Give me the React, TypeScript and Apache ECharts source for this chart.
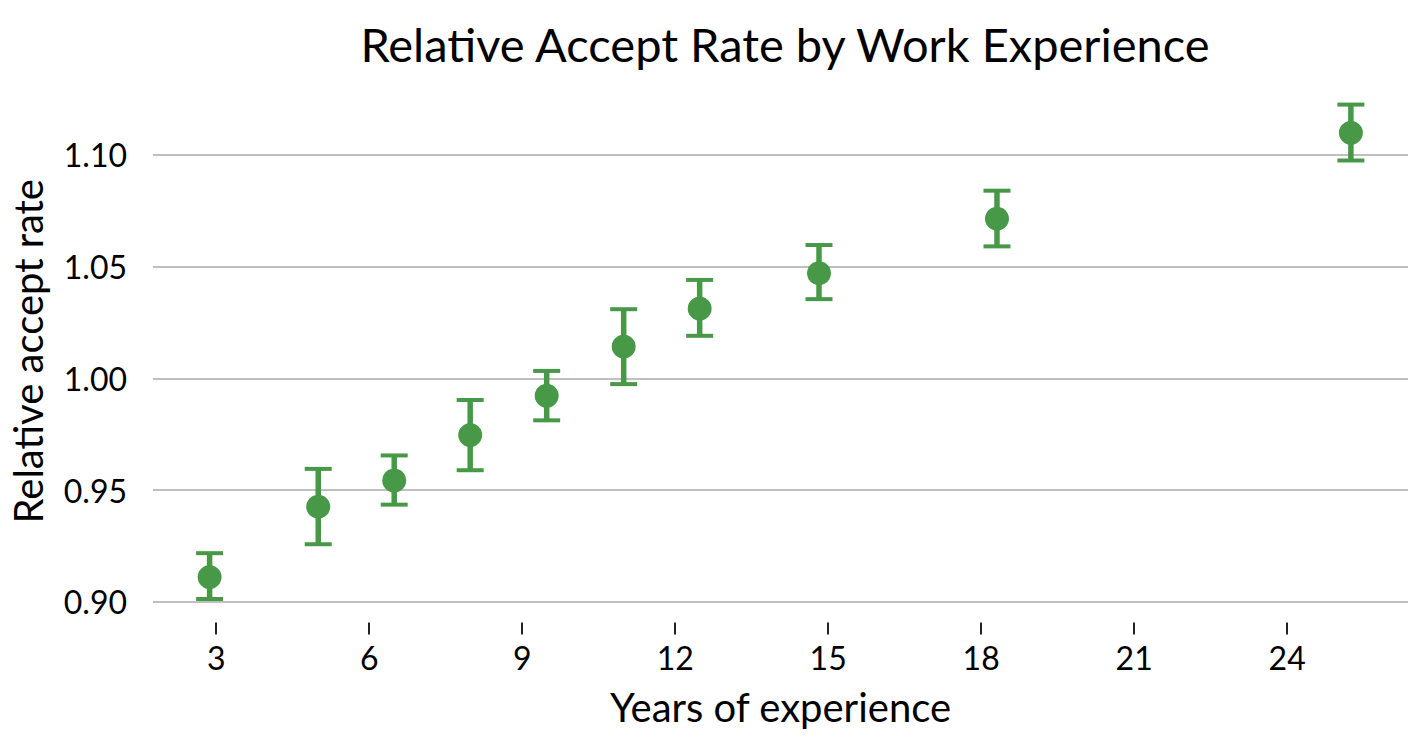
import React, { useEffect, useRef } from "react";
import * as echarts from "echarts";

// years of experience (bin centres) and relative accept rate with error bounds
const years = [2.87, 5.0, 6.49, 7.98, 9.48, 10.99, 12.48, 14.82, 18.31, 25.25];
const rate = [0.9111, 0.9426, 0.9543, 0.9746, 0.9922, 1.0142, 1.0312, 1.047, 1.0714, 1.1098];
const lower = [0.9013, 0.9258, 0.9435, 0.9589, 0.9812, 0.9974, 1.019, 1.0354, 1.059, 1.0974];
const upper = [0.9218, 0.9595, 0.9655, 0.9903, 1.0033, 1.0309, 1.044, 1.0596, 1.0839, 1.1224];

const xTicks = [3, 6, 9, 12, 15, 18, 21, 24];
const yTicks = [0.9, 0.95, 1.0, 1.05, 1.1];

const GREEN = "#479947";
const FONT = "Lato";

export default function App() {
  const chartRef = useRef<HTMLDivElement>(null);

  useEffect(() => {
    document.body.style.margin = "0";
    if (!chartRef.current) return;

    const chart = echarts.init(chartRef.current, null, { renderer: "svg" });

    const points = years.map((x, i) => [x, rate[i]]);
    const bars = years.map((x, i) => [x, lower[i], upper[i]]);

    const option = {
      animation: false,
      backgroundColor: "#ffffff",
      title: {
        text: "Relative Accept Rate by Work Experience",
        left: 780,
        top: 15,
        textAlign: "center",
        textStyle: {
          fontFamily: FONT,
          fontSize: 47,
          fontWeight: "normal",
          color: "#000",
        },
      },
      grid: {
        left: 153,
        right: 14,
        top: 80,
        bottom: 117.5,
      },
      xAxis: {
        type: "value",
        min: 1.76,
        max: 26.37,
        name: "Years of experience",
        nameLocation: "middle",
        nameGap: 64,
        nameTextStyle: { fontFamily: FONT, fontSize: 40, color: "#000" },
        axisLine: { show: false },
        axisTick: {
          show: true,
          length: 12,
          customValues: xTicks,
          lineStyle: { color: "#222", width: 2 },
        },
        axisLabel: {
          customValues: xTicks,
          margin: 19,
          fontFamily: FONT,
          fontSize: 32,
          color: "#000",
          formatter: (v: number) => String(v),
        },
        splitLine: { show: false },
      },
      yAxis: {
        type: "value",
        min: 0.8908,
        max: 1.1334,
        name: "Relative accept rate",
        nameLocation: "middle",
        nameGap: 105,
        nameTextStyle: { fontFamily: FONT, fontSize: 40, color: "#000" },
        axisLine: { show: false },
        axisTick: { show: false, customValues: yTicks },
        axisLabel: {
          customValues: yTicks,
          margin: 26,
          fontFamily: FONT,
          fontSize: 32,
          color: "#000",
          formatter: (v: number) => v.toFixed(2),
        },
        splitLine: {
          show: true,
          lineStyle: { color: "#bfbfbf", width: 2 },
        },
      },
      series: [
        {
          type: "custom",
          data: bars,
          encode: { x: 0, y: [1, 2] },
          z: 2,
          renderItem: (params: any, api: any) => {
            const x = api.value(0);
            const lo = api.coord([x, api.value(1)]);
            const hi = api.coord([x, api.value(2)]);
            const half = 13.5;
            return {
              type: "group",
              children: [
                {
                  type: "line",
                  shape: { x1: lo[0], y1: lo[1], x2: hi[0], y2: hi[1] },
                  style: { stroke: GREEN, lineWidth: 5.5 },
                },
                {
                  type: "line",
                  shape: { x1: hi[0] - half, y1: hi[1], x2: hi[0] + half, y2: hi[1] },
                  style: { stroke: GREEN, lineWidth: 4 },
                },
                {
                  type: "line",
                  shape: { x1: lo[0] - half, y1: lo[1], x2: lo[0] + half, y2: lo[1] },
                  style: { stroke: GREEN, lineWidth: 4 },
                },
              ],
            };
          },
        },
        {
          type: "scatter",
          data: points,
          symbol: "circle",
          symbolSize: 24,
          z: 3,
          itemStyle: { color: GREEN, opacity: 1 },
        },
      ],
    };

    chart.setOption(option);

    return () => {
      chart.dispose();
    };
  }, []);

  return <div ref={chartRef} style={{ width: "1422px", height: "740px" }} />;
}
